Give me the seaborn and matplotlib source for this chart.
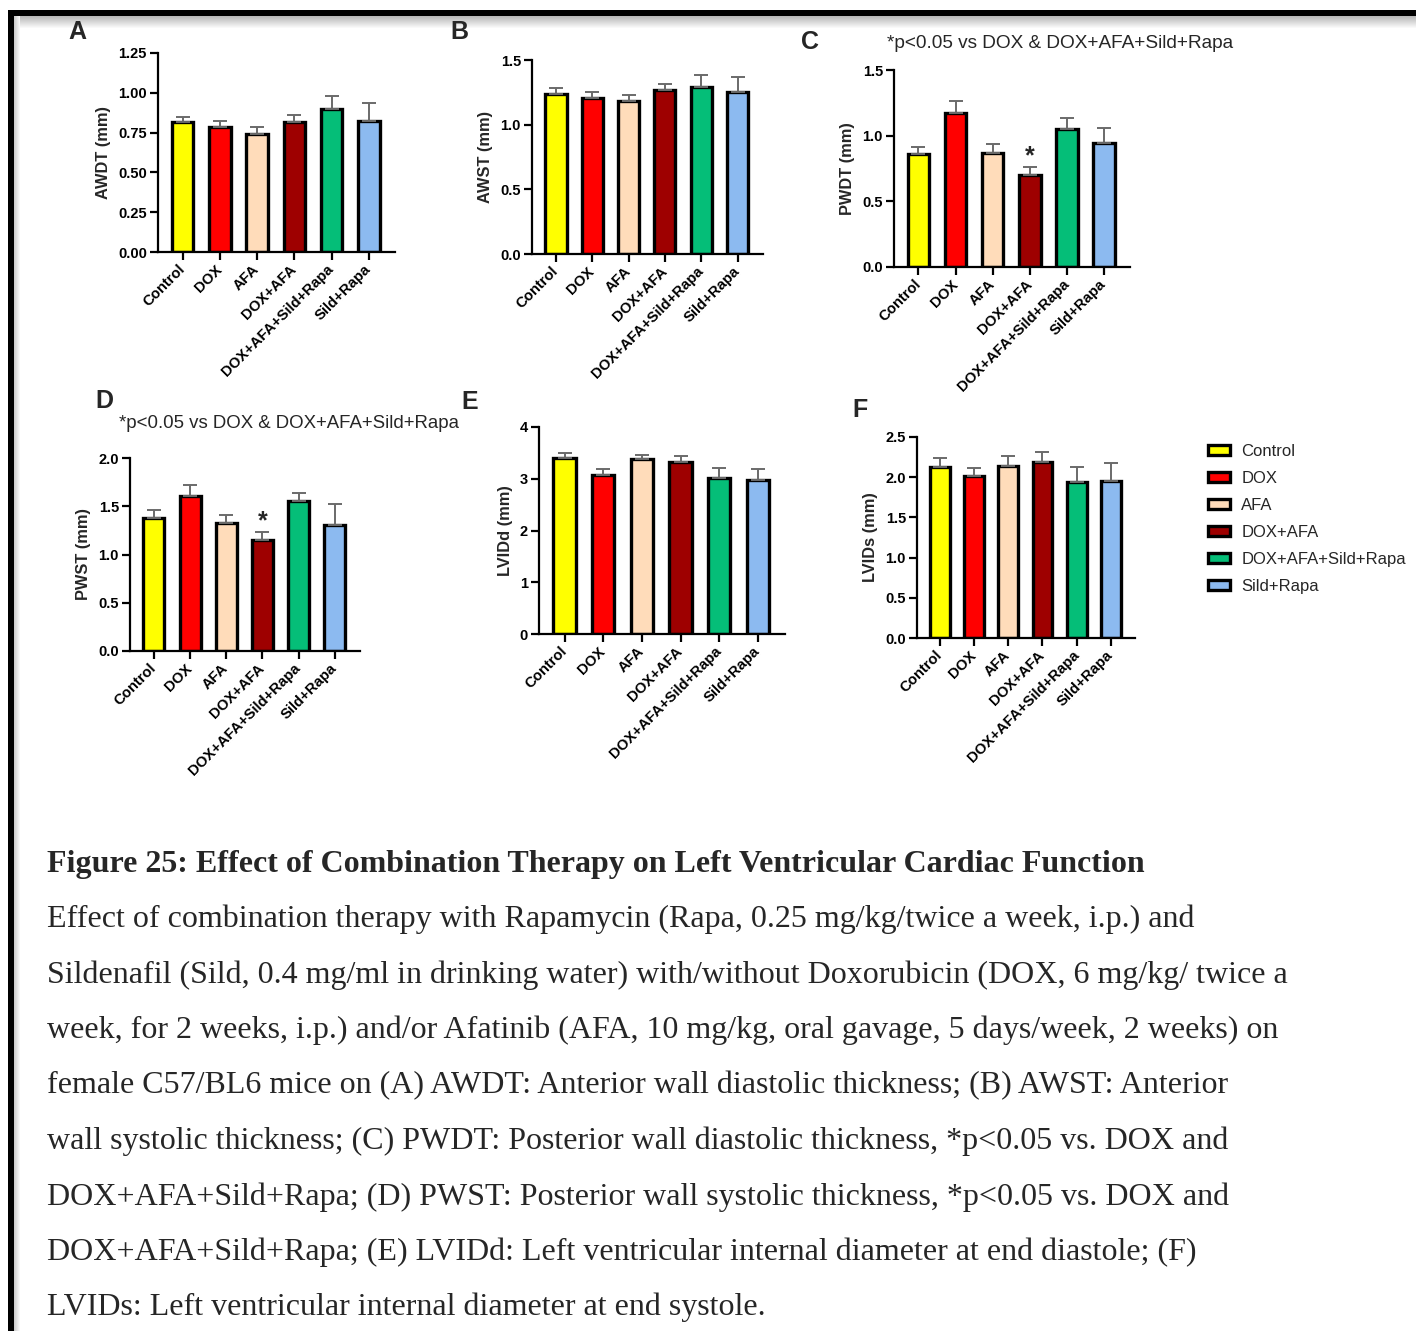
import numpy as np
import pandas as pd
import matplotlib
matplotlib.use("Agg")
import matplotlib.pyplot as plt
from matplotlib.patches import Patch, Rectangle
import seaborn as sns

sns.set_style("ticks")
plt.rcParams["font.family"] = ["Liberation Sans", "DejaVu Sans"]

# ---------------- data ----------------
groups = ["Control", "DOX", "AFA", "DOX+AFA", "DOX+AFA+Sild+Rapa", "Sild+Rapa"]
colors = ["#FFFF00", "#FF0000", "#FFDCBA", "#9E0000", "#05BE78", "#8CBAF0"]

awdt_mean = [0.815, 0.785, 0.740, 0.815, 0.900, 0.822]
awdt_err = [0.850, 0.825, 0.785, 0.858, 0.980, 0.935]

awst_mean = [1.235, 1.205, 1.180, 1.265, 1.290, 1.250]
awst_err = [1.285, 1.255, 1.232, 1.318, 1.382, 1.365]

pwdt_mean = [0.860, 1.170, 0.870, 0.700, 1.050, 0.945]
pwdt_err = [0.915, 1.265, 0.940, 0.760, 1.135, 1.055]

pwst_mean = [1.380, 1.610, 1.330, 1.155, 1.550, 1.310]
pwst_err = [1.460, 1.720, 1.405, 1.235, 1.635, 1.520]

lvidd_mean = [3.40, 3.07, 3.38, 3.32, 3.02, 2.98]
lvidd_err = [3.50, 3.18, 3.45, 3.43, 3.20, 3.18]

lvids_mean = [2.13, 2.01, 2.14, 2.19, 1.94, 1.95]
lvids_err = [2.24, 2.11, 2.26, 2.31, 2.13, 2.18]

sig_note = "*p<0.05 vs DOX & DOX+AFA+Sild+Rapa"

caption_title = "Figure 25: Effect of Combination Therapy on Left Ventricular Cardiac Function"
caption_lines = [
    "Effect of combination therapy with Rapamycin (Rapa, 0.25 mg/kg/twice a week, i.p.) and",
    "Sildenafil (Sild, 0.4 mg/ml in drinking water) with/without Doxorubicin (DOX, 6 mg/kg/ twice a",
    "week, for 2 weeks, i.p.) and/or Afatinib (AFA, 10 mg/kg, oral gavage, 5 days/week, 2 weeks) on",
    "female C57/BL6 mice on (A) AWDT: Anterior wall diastolic thickness; (B) AWST: Anterior",
    "wall systolic thickness; (C) PWDT: Posterior wall diastolic thickness, *p<0.05 vs. DOX and",
    "DOX+AFA+Sild+Rapa; (D) PWST: Posterior wall systolic thickness, *p<0.05 vs. DOX and",
    "DOX+AFA+Sild+Rapa; (E) LVIDd: Left ventricular internal diameter at end diastole; (F)",
    "LVIDs: Left ventricular internal diameter at end systole.",
]

# ---------------- figure ----------------
W, H = 1416, 1331
fig = plt.figure(figsize=(W / 100, H / 100), dpi=100)
fig.patch.set_facecolor("white")


def px_axes(x0, y0, x1, y1):
    return fig.add_axes([x0 / W, 1 - y1 / H, (x1 - x0) / W, (y1 - y0) / H])


def panel(rect, mean, err, ylabel, ylim, yticks, yfmt, star=False):
    ax = px_axes(*rect)
    df = pd.DataFrame({"group": groups, "value": mean})
    sns.barplot(data=df, x="group", y="value", hue="group", palette=colors,
                order=groups, hue_order=groups, ax=ax, width=0.58,
                edgecolor="black", linewidth=2.4, legend=False, errorbar=None,
                saturation=1)
    m = np.array(mean)
    e = np.array(err)
    ax.errorbar(np.arange(len(groups)), m, yerr=[np.zeros_like(m), e - m],
                fmt="none", ecolor="#6a6a6a", elinewidth=1.4, capsize=5,
                capthick=1.4, zorder=1)
    ax.set_xlim(-0.66, 5.7)
    ax.set_ylim(*ylim)
    ax.set_yticks(yticks)
    ax.set_yticklabels([yfmt.format(t) for t in yticks], fontweight="bold", fontsize=10.5)
    ax.set_xticks(range(len(groups)))
    ax.set_xticklabels(groups, rotation=45, ha="right", va="center",
                       rotation_mode="anchor", fontweight="bold", fontsize=10.7)
    ax.set_xlabel("")
    ax.set_ylabel(ylabel, fontweight="bold", fontsize=11.8, labelpad=5)
    for s in ["top", "right"]:
        ax.spines[s].set_visible(False)
    for s in ["left", "bottom"]:
        ax.spines[s].set_linewidth(1.6)
        ax.spines[s].set_color("black")
    ax.tick_params(axis="both", width=1.6, length=6, pad=2, colors="black")
    ax.tick_params(axis="x", pad=5)
    ax.set_facecolor("white")
    if star:
        ax.annotate("*", xy=(3, e[3]), xytext=(0, -1), textcoords="offset points",
                    ha="center", va="bottom", fontsize=18, fontweight="bold")
    return ax


panel((158, 53, 395, 252), awdt_mean, awdt_err, "AWDT (mm)", (0, 1.25),
      [0, 0.25, 0.5, 0.75, 1.0, 1.25], "{:.2f}")
panel((532, 60, 763, 254), awst_mean, awst_err, "AWST (mm)", (0, 1.5),
      [0, 0.5, 1.0, 1.5], "{:.1f}")
panel((894, 70, 1130, 267), pwdt_mean, pwdt_err, "PWDT (mm)", (0, 1.5),
      [0, 0.5, 1.0, 1.5], "{:.1f}", star=True)
panel((130, 458, 360, 651), pwst_mean, pwst_err, "PWST (mm)", (0, 2.0),
      [0, 0.5, 1.0, 1.5, 2.0], "{:.1f}", star=True)
panel((539, 427, 785, 634), lvidd_mean, lvidd_err, "LVIDd (mm)", (0, 4),
      [0, 1, 2, 3, 4], "{:.0f}")
panel((917, 437, 1135, 638), lvids_mean, lvids_err, "LVIDs (mm)", (0, 2.5),
      [0, 0.5, 1.0, 1.5, 2.0, 2.5], "{:.1f}")

# panel letters
for letter, (x, y) in zip("ABCDEF", [(77, 32), (459, 32), (810, 42), (104, 401),
                                     (470, 402), (860, 410)]):
    fig.text(x / W, 1 - y / H, letter, ha="center", va="center",
             fontsize=18, fontweight="bold")

# significance notes
fig.text(1060 / W, 1 - 43 / H, sig_note, ha="center", va="center", fontsize=13.7)
fig.text(289 / W, 1 - 424 / H, sig_note, ha="center", va="center", fontsize=13.4)

# legend
handles = [Patch(facecolor=c, edgecolor="black", linewidth=2.4, label=g)
           for c, g in zip(colors, groups)]
fig.legend(handles=handles, loc="upper left", bbox_to_anchor=(1208 / W, 1 - 444 / H),
           frameon=False, fontsize=12, handlelength=1.3, handleheight=0.5,
           handletextpad=0.7, labelspacing=0.72, borderaxespad=0, borderpad=0)

# caption
fig.text(47 / W, 1 - 872 / H, caption_title, ha="left", va="baseline",
         fontsize=23, fontweight="bold", family="Liberation Serif")
for i, line in enumerate(caption_lines):
    fig.text(47 / W, 1 - (927 + i * 55.5) / H, line, ha="left", va="baseline",
             fontsize=23, family="Liberation Serif")

# page border with soft shadow
for k in range(12):
    g = 0.72 + 0.28 * (k / 12)
    fig.add_artist(Rectangle((14 / W, 1 - (16 + k + 1) / H), 1 - 14 / W, 1 / H,
                             transform=fig.transFigure, facecolor=(g, g, g),
                             edgecolor="none", zorder=-1))
for k in range(6):
    g = 0.80 + 0.20 * (k / 6)
    fig.add_artist(Rectangle(((14 + k) / W, 0), 1 / W, 1 - 16 / H,
                             transform=fig.transFigure, facecolor=(g, g, g),
                             edgecolor="none", zorder=-1))
fig.add_artist(Rectangle((8 / W, 1 - 16 / H), 1, 6 / H, transform=fig.transFigure,
                         facecolor="black", edgecolor="none", zorder=5))
fig.add_artist(Rectangle((8 / W, 0), 6 / W, 1 - 10 / H, transform=fig.transFigure,
                         facecolor="black", edgecolor="none", zorder=5))

fig.savefig("out.png", dpi=100, facecolor="white")
